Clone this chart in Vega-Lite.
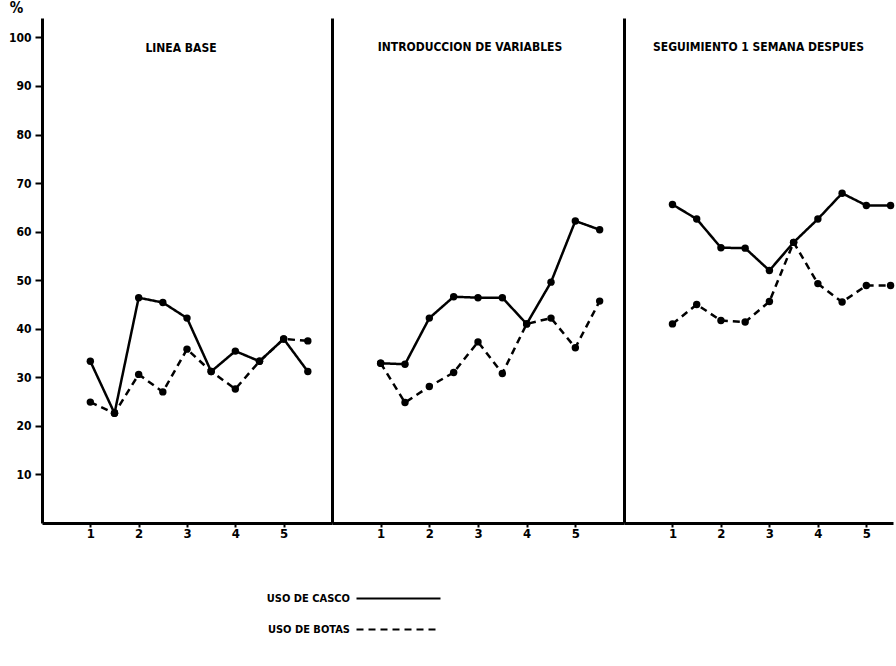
{
  "$schema": "https://vega.github.io/schema/vega-lite/v6.json",
  "background": "white",
  "padding": {"left": 8, "top": 0, "right": 5, "bottom": 5},
  "spacing": 0,
  "config": {
    "view": {"stroke": null},
    "font": "DejaVu Sans Condensed",
    "axis": {"domainColor": "black", "tickColor": "black", "labelColor": "black", "titleColor": "black", "grid": false},
    "title": {"font": "DejaVu Sans Condensed", "fontSize": 12, "fontWeight": "bold", "color": "black"}
  },
  "data": {
    "values": [
      {"fase": "LINEA BASE", "serie": "USO DE CASCO", "sesion": 1, "pct": 33.3},
      {"fase": "LINEA BASE", "serie": "USO DE CASCO", "sesion": 1.5, "pct": 22.6},
      {"fase": "LINEA BASE", "serie": "USO DE CASCO", "sesion": 2, "pct": 46.4},
      {"fase": "LINEA BASE", "serie": "USO DE CASCO", "sesion": 2.5, "pct": 45.4},
      {"fase": "LINEA BASE", "serie": "USO DE CASCO", "sesion": 3, "pct": 42.2},
      {"fase": "LINEA BASE", "serie": "USO DE CASCO", "sesion": 3.5, "pct": 31.2},
      {"fase": "LINEA BASE", "serie": "USO DE CASCO", "sesion": 4, "pct": 35.4},
      {"fase": "LINEA BASE", "serie": "USO DE CASCO", "sesion": 4.5, "pct": 33.3},
      {"fase": "LINEA BASE", "serie": "USO DE CASCO", "sesion": 5, "pct": 37.9},
      {"fase": "LINEA BASE", "serie": "USO DE CASCO", "sesion": 5.5, "pct": 31.2},
      {"fase": "LINEA BASE", "serie": "USO DE BOTAS", "sesion": 1, "pct": 24.9},
      {"fase": "LINEA BASE", "serie": "USO DE BOTAS", "sesion": 1.5, "pct": 22.6},
      {"fase": "LINEA BASE", "serie": "USO DE BOTAS", "sesion": 2, "pct": 30.6},
      {"fase": "LINEA BASE", "serie": "USO DE BOTAS", "sesion": 2.5, "pct": 27.0},
      {"fase": "LINEA BASE", "serie": "USO DE BOTAS", "sesion": 3, "pct": 35.8},
      {"fase": "LINEA BASE", "serie": "USO DE BOTAS", "sesion": 3.5, "pct": 31.2},
      {"fase": "LINEA BASE", "serie": "USO DE BOTAS", "sesion": 4, "pct": 27.6},
      {"fase": "LINEA BASE", "serie": "USO DE BOTAS", "sesion": 4.5, "pct": 33.3},
      {"fase": "LINEA BASE", "serie": "USO DE BOTAS", "sesion": 5, "pct": 37.9},
      {"fase": "LINEA BASE", "serie": "USO DE BOTAS", "sesion": 5.5, "pct": 37.5},
      {"fase": "INTRODUCCION DE VARIABLES", "serie": "USO DE CASCO", "sesion": 1, "pct": 32.9},
      {"fase": "INTRODUCCION DE VARIABLES", "serie": "USO DE CASCO", "sesion": 1.5, "pct": 32.7},
      {"fase": "INTRODUCCION DE VARIABLES", "serie": "USO DE CASCO", "sesion": 2, "pct": 42.2},
      {"fase": "INTRODUCCION DE VARIABLES", "serie": "USO DE CASCO", "sesion": 2.5, "pct": 46.6},
      {"fase": "INTRODUCCION DE VARIABLES", "serie": "USO DE CASCO", "sesion": 3, "pct": 46.4},
      {"fase": "INTRODUCCION DE VARIABLES", "serie": "USO DE CASCO", "sesion": 3.5, "pct": 46.4},
      {"fase": "INTRODUCCION DE VARIABLES", "serie": "USO DE CASCO", "sesion": 4, "pct": 41.0},
      {"fase": "INTRODUCCION DE VARIABLES", "serie": "USO DE CASCO", "sesion": 4.5, "pct": 49.6},
      {"fase": "INTRODUCCION DE VARIABLES", "serie": "USO DE CASCO", "sesion": 5, "pct": 62.2},
      {"fase": "INTRODUCCION DE VARIABLES", "serie": "USO DE CASCO", "sesion": 5.5, "pct": 60.4},
      {"fase": "INTRODUCCION DE VARIABLES", "serie": "USO DE BOTAS", "sesion": 1, "pct": 32.9},
      {"fase": "INTRODUCCION DE VARIABLES", "serie": "USO DE BOTAS", "sesion": 1.5, "pct": 24.8},
      {"fase": "INTRODUCCION DE VARIABLES", "serie": "USO DE BOTAS", "sesion": 2, "pct": 28.1},
      {"fase": "INTRODUCCION DE VARIABLES", "serie": "USO DE BOTAS", "sesion": 2.5, "pct": 31.0},
      {"fase": "INTRODUCCION DE VARIABLES", "serie": "USO DE BOTAS", "sesion": 3, "pct": 37.3},
      {"fase": "INTRODUCCION DE VARIABLES", "serie": "USO DE BOTAS", "sesion": 3.5, "pct": 30.8},
      {"fase": "INTRODUCCION DE VARIABLES", "serie": "USO DE BOTAS", "sesion": 4, "pct": 41.0},
      {"fase": "INTRODUCCION DE VARIABLES", "serie": "USO DE BOTAS", "sesion": 4.5, "pct": 42.2},
      {"fase": "INTRODUCCION DE VARIABLES", "serie": "USO DE BOTAS", "sesion": 5, "pct": 36.1},
      {"fase": "INTRODUCCION DE VARIABLES", "serie": "USO DE BOTAS", "sesion": 5.5, "pct": 45.7},
      {"fase": "SEGUIMIENTO 1 SEMANA DESPUES", "serie": "USO DE CASCO", "sesion": 1, "pct": 65.6},
      {"fase": "SEGUIMIENTO 1 SEMANA DESPUES", "serie": "USO DE CASCO", "sesion": 1.5, "pct": 62.6},
      {"fase": "SEGUIMIENTO 1 SEMANA DESPUES", "serie": "USO DE CASCO", "sesion": 2, "pct": 56.7},
      {"fase": "SEGUIMIENTO 1 SEMANA DESPUES", "serie": "USO DE CASCO", "sesion": 2.5, "pct": 56.6},
      {"fase": "SEGUIMIENTO 1 SEMANA DESPUES", "serie": "USO DE CASCO", "sesion": 3, "pct": 52.0},
      {"fase": "SEGUIMIENTO 1 SEMANA DESPUES", "serie": "USO DE CASCO", "sesion": 3.5, "pct": 57.8},
      {"fase": "SEGUIMIENTO 1 SEMANA DESPUES", "serie": "USO DE CASCO", "sesion": 4, "pct": 62.6},
      {"fase": "SEGUIMIENTO 1 SEMANA DESPUES", "serie": "USO DE CASCO", "sesion": 4.5, "pct": 67.9},
      {"fase": "SEGUIMIENTO 1 SEMANA DESPUES", "serie": "USO DE CASCO", "sesion": 5, "pct": 65.4},
      {"fase": "SEGUIMIENTO 1 SEMANA DESPUES", "serie": "USO DE CASCO", "sesion": 5.5, "pct": 65.4},
      {"fase": "SEGUIMIENTO 1 SEMANA DESPUES", "serie": "USO DE BOTAS", "sesion": 1, "pct": 41.0},
      {"fase": "SEGUIMIENTO 1 SEMANA DESPUES", "serie": "USO DE BOTAS", "sesion": 1.5, "pct": 45.0},
      {"fase": "SEGUIMIENTO 1 SEMANA DESPUES", "serie": "USO DE BOTAS", "sesion": 2, "pct": 41.7},
      {"fase": "SEGUIMIENTO 1 SEMANA DESPUES", "serie": "USO DE BOTAS", "sesion": 2.5, "pct": 41.4},
      {"fase": "SEGUIMIENTO 1 SEMANA DESPUES", "serie": "USO DE BOTAS", "sesion": 3, "pct": 45.6},
      {"fase": "SEGUIMIENTO 1 SEMANA DESPUES", "serie": "USO DE BOTAS", "sesion": 3.5, "pct": 57.8},
      {"fase": "SEGUIMIENTO 1 SEMANA DESPUES", "serie": "USO DE BOTAS", "sesion": 4, "pct": 49.3},
      {"fase": "SEGUIMIENTO 1 SEMANA DESPUES", "serie": "USO DE BOTAS", "sesion": 4.5, "pct": 45.5},
      {"fase": "SEGUIMIENTO 1 SEMANA DESPUES", "serie": "USO DE BOTAS", "sesion": 5, "pct": 48.9},
      {"fase": "SEGUIMIENTO 1 SEMANA DESPUES", "serie": "USO DE BOTAS", "sesion": 5.5, "pct": 48.9}
    ]
  },
  "hconcat": [
    {
      "width": 290,
      "height": 505,
      "title": {"text": "LINEA BASE", "offset": -55, "anchor": "middle", "dx": -6},
      "transform": [{"filter": "datum.fase === 'LINEA BASE'"}],
      "encoding": {
        "x": {"field": "sesion", "type": "quantitative", "scale": {"domain": [0, 6], "nice": false},
          "axis": {"title": null, "values": [1, 2, 3, 4, 5], "format": "d", "tickSize": 4, "tickWidth": 2, "domainWidth": 3, "labelFontSize": 13, "labelFontWeight": "bold", "labelPadding": 0, "labelFlush": false}},
        "y": {"field": "pct", "type": "quantitative", "scale": {"domain": [0, 104], "nice": false},
          "axis": {"title": "%", "titleAngle": 0, "titleX": -26, "titleY": -3, "titleFontSize": 15, "titleFontWeight": "bold", "values": [10, 20, 30, 40, 50, 60, 70, 80, 90, 100], "tickSize": 7, "tickWidth": 2, "domainWidth": 3, "labelFontSize": 12, "labelFontWeight": "bold", "labelPadding": 4}}
      },
      "layer": [
        {"mark": {"type": "line", "color": "black", "strokeWidth": 2.5},
         "encoding": {"strokeDash": {"field": "serie", "type": "nominal", "scale": {"domain": ["USO DE CASCO", "USO DE BOTAS"], "range": [[1, 0], [7, 5]]},
           "legend": {"orient": "none", "legendX": 345, "legendY": 569, "title": null, "direction": "vertical", "symbolType": "M-4,0H4", "symbolSize": 441, "symbolStrokeWidth": 2, "symbolStrokeColor": "black", "labelFontSize": 11, "labelFontWeight": "bold", "labelFont": "DejaVu Sans Condensed", "labelAlign": "right", "labelOffset": -60, "rowPadding": 14}}}},
        {"mark": {"type": "point", "filled": true, "color": "black", "size": 55, "opacity": 1}}
      ]
    },
    {
      "width": 292,
      "height": 505,
      "title": {"text": "INTRODUCCION DE VARIABLES", "offset": -36, "anchor": "middle", "dx": -8},
      "transform": [{"filter": "datum.fase === 'INTRODUCCION DE VARIABLES'"}],
      "encoding": {
        "x": {"field": "sesion", "type": "quantitative", "scale": {"domain": [0, 6], "nice": false},
          "axis": {"title": null, "values": [1, 2, 3, 4, 5], "format": "d", "tickSize": 4, "tickWidth": 2, "domainWidth": 3, "labelFontSize": 13, "labelFontWeight": "bold", "labelPadding": 0, "labelFlush": false}},
        "y": {"field": "pct", "type": "quantitative", "scale": {"domain": [0, 104], "nice": false},
          "axis": {"title": null, "labels": false, "ticks": false, "domainWidth": 3}}
      },
      "layer": [
        {"mark": {"type": "line", "color": "black", "strokeWidth": 2.5},
         "encoding": {"strokeDash": {"field": "serie", "type": "nominal", "scale": {"domain": ["USO DE CASCO", "USO DE BOTAS"], "range": [[1, 0], [7, 5]]}}}},
        {"mark": {"type": "point", "filled": true, "color": "black", "size": 55, "opacity": 1}}
      ]
    },
    {
      "width": 269,
      "height": 505,
      "title": {"text": "SEGUIMIENTO 1 SEMANA DESPUES", "offset": -36, "anchor": "middle"},
      "transform": [{"filter": "datum.fase === 'SEGUIMIENTO 1 SEMANA DESPUES'"}],
      "encoding": {
        "x": {"field": "sesion", "type": "quantitative", "scale": {"domain": [0, 5.55], "nice": false},
          "axis": {"title": null, "values": [1, 2, 3, 4, 5], "format": "d", "tickSize": 4, "tickWidth": 2, "domainWidth": 3, "labelFontSize": 13, "labelFontWeight": "bold", "labelPadding": 0, "labelFlush": false}},
        "y": {"field": "pct", "type": "quantitative", "scale": {"domain": [0, 104], "nice": false},
          "axis": {"title": null, "labels": false, "ticks": false, "domainWidth": 3}}
      },
      "layer": [
        {"mark": {"type": "line", "color": "black", "strokeWidth": 2.5},
         "encoding": {"strokeDash": {"field": "serie", "type": "nominal", "scale": {"domain": ["USO DE CASCO", "USO DE BOTAS"], "range": [[1, 0], [7, 5]]}}}},
        {"mark": {"type": "point", "filled": true, "color": "black", "size": 55, "opacity": 1}}
      ]
    }
  ]
}
